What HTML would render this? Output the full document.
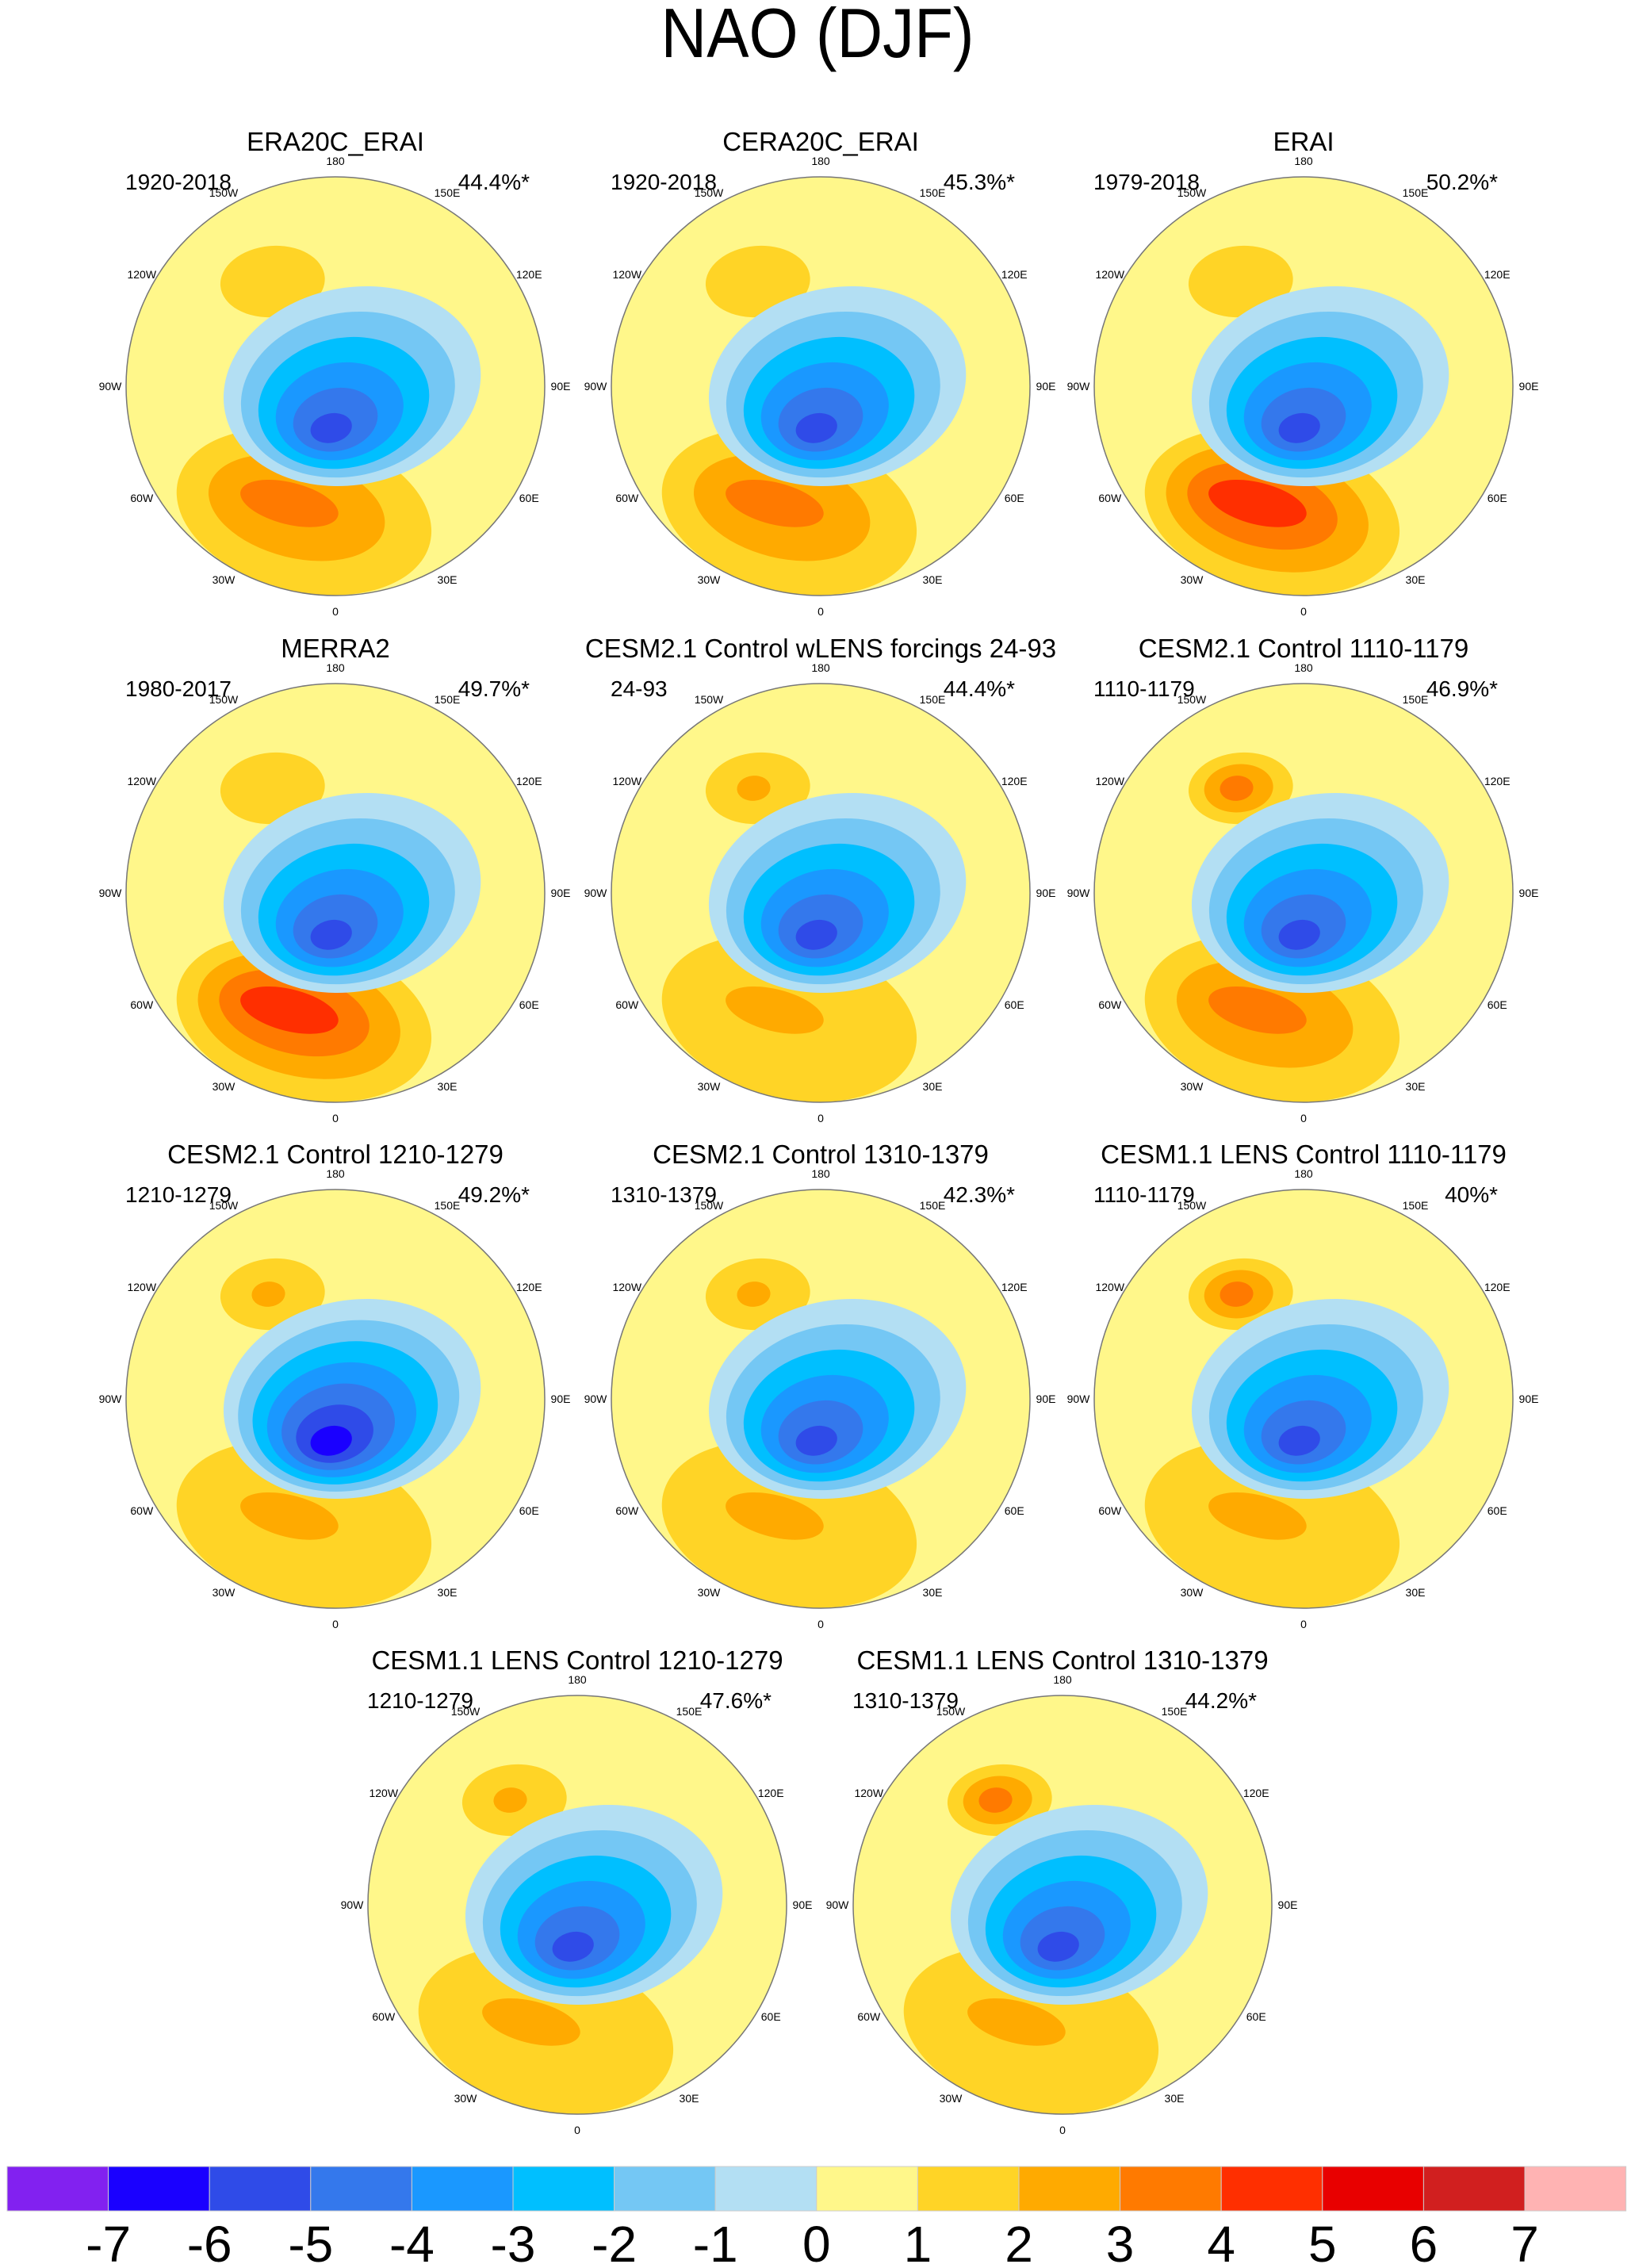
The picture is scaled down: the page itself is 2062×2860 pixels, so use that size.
<!DOCTYPE html>
<html><head><meta charset="utf-8"><style>
html,body{margin:0;padding:0;background:#fff;}
svg{display:block;font-family:"Liberation Sans",sans-serif;}
</style></head><body>
<svg id="fig" width="2062" height="2860" viewBox="0 0 2062 2860" xmlns="http://www.w3.org/2000/svg">
<text x="1031" y="72" font-size="88" text-anchor="middle" textLength="395" lengthAdjust="spacingAndGlyphs">NAO (DJF)</text>
<g id="panels"></g>
<g id="cbar"></g>
</svg>
<script>
const titles = ["ERA20C_ERAI","CERA20C_ERAI","ERAI","MERRA2","CESM2.1 Control wLENS forcings 24-93","CESM2.1 Control 1110-1179","CESM2.1 Control 1210-1279","CESM2.1 Control 1310-1379","CESM1.1 LENS Control 1110-1179","CESM1.1 LENS Control 1210-1279","CESM1.1 LENS Control 1310-1379"];
const periods = ["1920-2018","1920-2018","1979-2018","1980-2017","24-93","1110-1179","1210-1279","1310-1379","1110-1179","1210-1279","1310-1379"];
const percents = ["44.4%*","45.3%*","50.2%*","49.7%*","44.4%*","46.9%*","49.2%*","42.3%*","40%*","47.6%*","44.2%*"];
const negDepth = [6,6,6,6,6,6,7,6,6,6,6];
const posDepth = [3,3,4,4,2,3,2,2,2,2,2];
const pacDepth = [1,1,1,1,2,3,2,2,3,2,3];
const cbarLabels = ["-7","-6","-5","-4","-3","-2","-1","0","1","2","3","4","5","6","7"];
const cbarColors = ["#8221f0","#1a00ff","#2f4be8","#3478ec","#1a98ff","#00bfff","#74c7f4","#b3dff3","#fff78a","#ffd426","#ffaa00","#ff7a00","#ff2f00","#e80000","#d11f1f","#ffb3b3"];
const lonLabels = ["0","30E","60E","90E","120E","150E","180","150W","120W","90W","60W","30W"];

const NS="http://www.w3.org/2000/svg";
function mk(tag, attrs, parent){const e=document.createElementNS(NS,tag);for(const k in attrs)e.setAttribute(k,attrs[k]);if(parent)parent.appendChild(e);return e;}
const negCol=["#b3dff3","#74c7f4","#00bfff","#1a98ff","#3478ec","#2f4be8","#1a00ff"];
const posCol=["#ffd426","#ffaa00","#ff7a00","#ff2f00","#e80000"];
const R=264;
const colX=[423,1035,1644], rowY=[487,1126,1764,2402];
function centerOf(i){ if(i<9) return [colX[i%3], rowY[Math.floor(i/3)]]; return [[728,1340][i-9], rowY[3]]; }
function lerp(a,b,t){return a+(b-a)*t;}
function blobs(g,cx,cy,n,cols,o,c,rot){
  for(let k=0;k<n;k++){
    const t = n>1 ? k/(n-1) : 0;
    const ex=cx+R*lerp(o[0],c[0],t), ey=cy+R*lerp(o[1],c[1],t);
    const e = mk('ellipse',{cx:ex, cy:ey, rx:R*lerp(o[2],c[2],t), ry:R*lerp(o[3],c[3],t), fill:cols[Math.min(k,cols.length-1)], transform:`rotate(${rot} ${ex} ${ey})`},g);
    
    
  }
}
const panels=document.getElementById('panels');
titles.forEach((t,i)=>{
  const [cx,cy]=centerOf(i);
  const g=mk('g',{},panels);
  
  
  const clipId='clip'+i;
  const cp=mk('clipPath',{id:clipId},g); mk('circle',{cx:cx,cy:cy,r:R},cp);
  const m=mk('g',{'clip-path':`url(#${clipId})`},g);
  const bg=mk('circle',{cx:cx,cy:cy,r:R,fill:'#fff78a'},m);
  
  
  blobs(m,cx,cy,pacDepth[i],posCol,[-0.3,-0.5,0.25,0.17],[-0.32,-0.5,0.08,0.06],-5);
  blobs(m,cx,cy,posDepth[i],posCol,[-0.15,0.6,0.62,0.38],[-0.22,0.56,0.24,0.1],14);
  blobs(m,cx,cy,negDepth[i],negCol,[0.08,0.0,0.62,0.47],[-0.02,0.2,0.1,0.07],-12);
  const rim=mk('circle',{cx:cx,cy:cy,r:R,fill:'none',stroke:'#777','stroke-width':1.5},g);
  
  
  const tt=mk('text',{x:cx,y:cy-297,'font-size':33,'text-anchor':'middle'},g); tt.textContent=t;
  
  
  const st=mk('text',{x:cx-265,y:cy-248,'font-size':28},g); st.textContent=periods[i];
  
  
  const pt=mk('text',{x:cx+245,y:cy-248,'font-size':28,'text-anchor':'end'},g); pt.textContent=percents[i];
  
  
  lonLabels.forEach((l,j)=>{
    const a=j*30*Math.PI/180; const rr=R+(j%3===0?20:18);
    const lt=mk('text',{x:cx+rr*Math.sin(a),y:cy+rr*Math.cos(a)+5,'font-size':14,'text-anchor':'middle'},g); lt.textContent=l;
    
    
  });
});
const cb=document.getElementById('cbar');
const x0=9, bw=127.6;
cbarColors.forEach((c,k)=>{
  const r=mk('rect',{x:x0+k*bw,y:2732,width:bw,height:56,fill:c,stroke:'#ccc','stroke-width':1},cb);
  
  
});
cbarLabels.forEach((l,k)=>{
  const t=mk('text',{x:x0+(k+1)*bw,y:2852,'font-size':64,'text-anchor':'middle'},cb); t.textContent=l;
  
  
});
</script>
</body></html>
